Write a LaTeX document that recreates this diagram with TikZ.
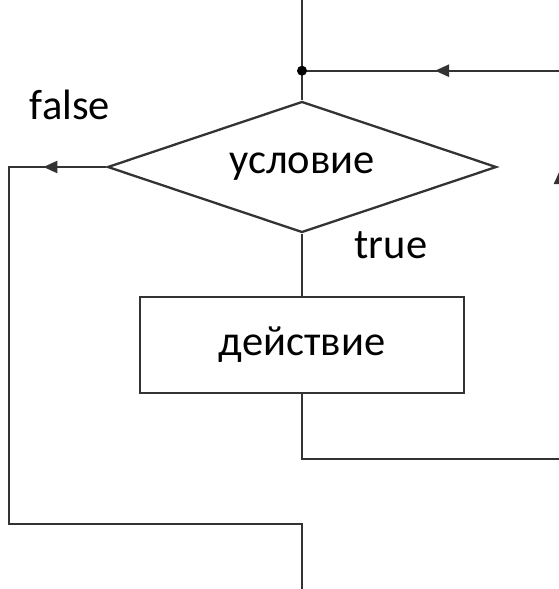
\documentclass[tikz,border=0pt]{standalone}
\usepackage{fontspec}
\setmainfont{Carlito}
\usetikzlibrary{shapes.geometric,arrows.meta,decorations.markings}
\begin{document}
\begin{tikzpicture}[x=1pt,y=-1pt,
  flow/.style={draw=black!80, line width=2.3pt},
  lbl/.style={font=\fontsize{42.5}{48}\selectfont, text=black},
  tip/.style={-{Triangle[length=14pt,width=12pt]}},
  midarrow/.style={postaction={decorate},
    decoration={markings, mark=at position #1 with {\arrow{Triangle[length=14pt,width=12pt]}}}},
]
\useasboundingbox (0,0) rectangle (559,589);

% fixed points of the loop
\coordinate (topin) at (302,-5);
\coordinate (junct) at (302,70.7);
\coordinate (loopin) at (566,70.7);
\coordinate (falsecorner) at (9,167);
\coordinate (falsebottom) at (9,524);
\coordinate (exitcorner) at (302,524);
\coordinate (exit) at (302,595);
\coordinate (backcorner) at (302,459);
\coordinate (backright) at (560,459);
\coordinate (backup) at (560,170);

% blocks
\node[flow, diamond, aspect=2.97, minimum width=389pt, minimum height=131pt,
      inner sep=0pt, lbl] (cond) at (302,167) {\raisebox{2pt}{условие}};
\node[flow, rectangle, minimum width=324pt, minimum height=96pt,
      inner sep=0pt, lbl] (act) at (302,345) {\raisebox{5pt}{действие}};

% branch labels
\node[lbl, anchor=base, inner sep=0pt] (flbl) at (70,119) {false};
\node[lbl, anchor=base, inner sep=0pt] (tlbl) at (391,258) {true};

% connectors
\draw[flow] (topin) -- (cond.north);
\draw[flow, midarrow=131pt] (loopin) -- (junct);
\fill[black] (junct) circle (5pt);
\draw[flow] (cond.south) -- (act.north);
\draw[flow, midarrow=63pt] (cond.west) -- (falsecorner) -- (falsebottom)
  -- (exitcorner) -- (exit);
\draw[flow, tip] (act.south) -- (backcorner) -- (backright) -- (backup);
\end{tikzpicture}
\end{document}
